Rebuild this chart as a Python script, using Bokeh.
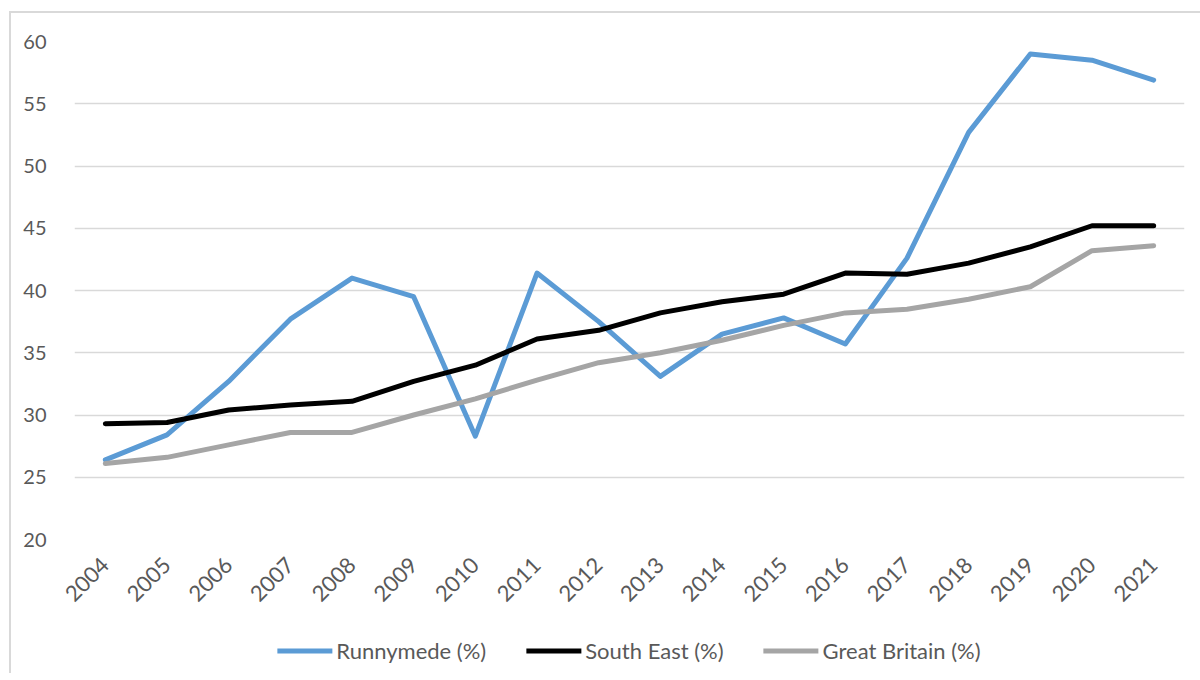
import math
from bokeh.plotting import figure
from bokeh.layouts import column
from bokeh.models import Legend, LegendItem, FactorRange
from bokeh.embed import file_html
from bokeh.resources import INLINE

years = [str(y) for y in range(2004, 2022)]
runnymede = [26.4, 28.4, 32.7, 37.7, 41.0, 39.5, 28.3, 41.4, 37.5, 33.1, 36.5, 37.8, 35.7, 42.6, 52.7, 59.0, 58.5, 56.9]
south_east = [29.3, 29.4, 30.4, 30.8, 31.1, 32.7, 34.0, 36.1, 36.8, 38.2, 39.1, 39.7, 41.4, 41.3, 42.2, 43.5, 45.2, 45.2]
great_britain = [26.1, 26.6, 27.6, 28.6, 28.6, 30.0, 31.3, 32.8, 34.2, 35.0, 36.0, 37.2, 38.2, 38.5, 39.3, 40.3, 43.2, 43.6]
y_ticks = [20, 25, 30, 35, 40, 45, 50, 55, 60]
series_names = ["Runnymede (%)", "South East (%)", "Great Britain (%)"]
colors = ["#5B9BD5", "#000000", "#A5A5A5"]

FONT = "Lato"
TXT = "#595959"

p = figure(width=1189, height=600, x_range=FactorRange(*years), y_range=(20, 60),
           output_backend="svg", toolbar_location=None,
           min_border_left=63, min_border_right=16, min_border_top=28, min_border_bottom=74)
p.x_range.range_padding = 0
p.outline_line_color = None
p.xgrid.grid_line_color = None
p.ygrid.grid_line_color = "#D9D9D9"
p.ygrid.grid_line_width = 1.3
p.yaxis.ticker = y_ticks

for ax in (p.xaxis, p.yaxis):
    ax.axis_line_color = None
    ax.major_tick_line_color = None
    ax.minor_tick_line_color = None
    ax.major_label_text_font = FONT
    ax.major_label_text_color = TXT
p.yaxis.major_label_text_font_size = "20px"
p.xaxis.major_label_text_font_size = "22px"
p.yaxis.major_label_standoff = 22
p.xaxis.major_label_orientation = math.pi / 4
p.xaxis.major_label_standoff = 16

all_series = [runnymede, south_east, great_britain]
for vals, c in zip(all_series, colors):
    p.line(years, vals, line_color=c, line_width=5, line_cap="round", line_join="round")

# legend strip below the chart (its lines lie outside its visible range)
lg = figure(width=1189, height=60, x_range=FactorRange(*years), y_range=(1000, 1001),
            output_backend="svg", toolbar_location=None,
            x_axis_location=None, y_axis_location=None,
            min_border_left=26, min_border_right=0, min_border_top=14, min_border_bottom=0)
lg.outline_line_color = None
lg.grid.grid_line_color = None
proxies = [lg.line(years, vals, line_color=c, line_width=5, line_cap="round")
           for vals, c in zip(all_series, colors)]

legend = Legend(items=[LegendItem(label=n, renderers=[r]) for n, r in zip(series_names, proxies)],
                orientation="horizontal", location="center")
legend.label_text_font = FONT
legend.label_text_font_size = "22px"
legend.label_text_color = TXT
legend.glyph_width = 55
legend.glyph_height = 22
legend.label_standoff = 4
legend.spacing = 40
legend.border_line_color = None
legend.background_fill_alpha = 0
legend.padding = 2
legend.margin = 0
lg.add_layout(legend)

layout = column(p, lg, spacing=0)
layout.styles = {"border-left": "2px solid #d9d9d9", "border-top": "2px solid #d9d9d9",
                 "margin-left": "9px", "margin-top": "11px"}

open("out.html", "w").write(file_html(layout, INLINE))
